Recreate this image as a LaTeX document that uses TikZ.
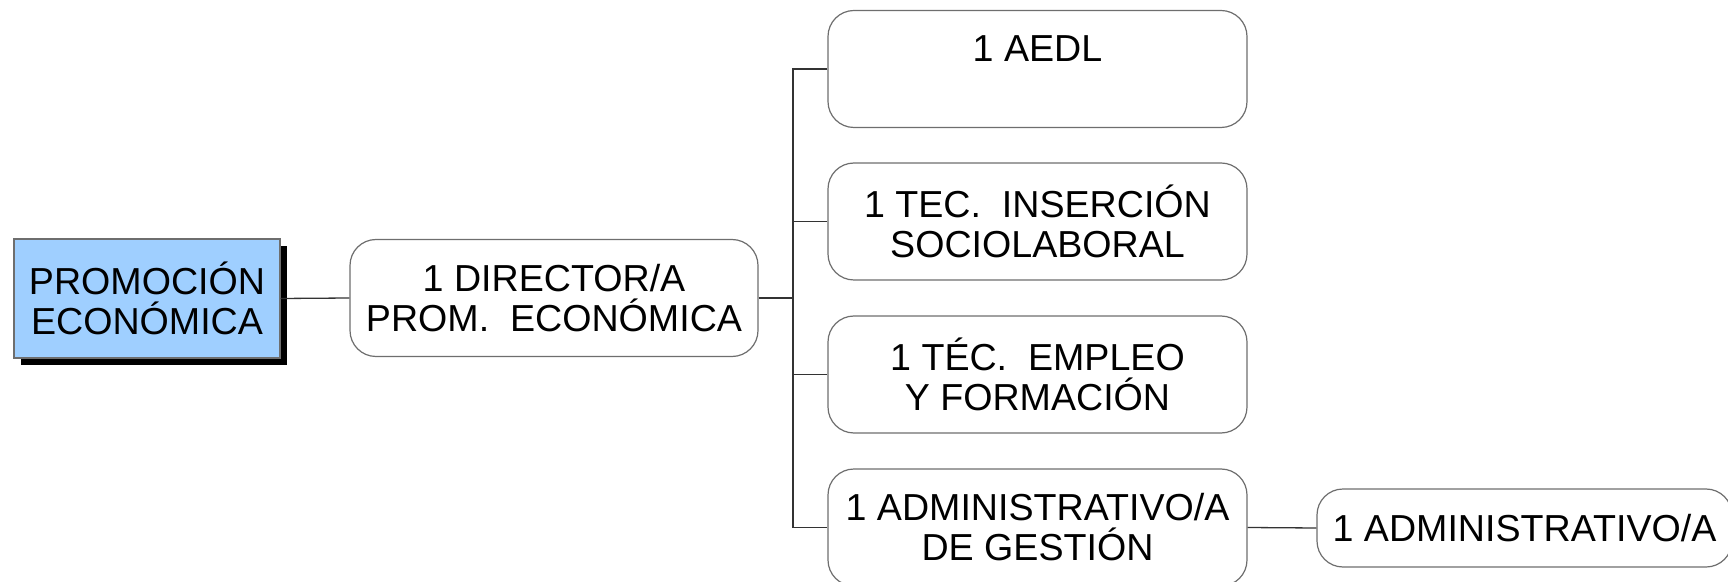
\documentclass[tikz,border=0pt]{standalone}
\usepackage{fontspec}
\setmainfont{Liberation Sans}
\usetikzlibrary{shadows}
\definecolor{boxblue}{RGB}{159,207,255}
\definecolor{bordergray}{RGB}{110,110,110}
\definecolor{linegray}{RGB}{51,51,51}
\begin{document}
\begin{tikzpicture}[x=0.5pt,y=-0.5pt,
  every node/.style={font=\fontsize{18.8}{20}\selectfont, align=center, inner sep=0pt},
  rootbox/.style={draw=bordergray, fill=boxblue, line width=0.6pt,
    minimum width=133pt, minimum height=59.5pt,
    drop shadow={shadow xshift=3.5pt, shadow yshift=-3.5pt, fill=black, opacity=1}},
  rbox/.style={draw=bordergray, fill=white, line width=0.6pt, rounded corners=13pt,
    minimum height=58.5pt},
  childbox/.style={rbox, minimum width=209.5pt},
  conn/.style={draw=linegray, line width=0.65pt}]
\clip (0,0) rectangle (1728,582);
\node[rootbox] (root) at (147,298.5) {PROMOCIÓN\\ECONÓMICA};
\node[rbox, minimum width=204pt] (dir) at (554,298) {1 DIRECTOR/A\\PROM.\ \ ECONÓMICA};
\node[childbox] (c1) at (1037.5,69) {1 AEDL\\\mbox{}};
\node[childbox] (c2) at (1037.5,221.5) {1 TEC.\ \ INSERCIÓN\\SOCIOLABORAL};
\node[childbox] (c3) at (1037.5,374.5) {1 TÉC.\ \ EMPLEO\\Y FORMACIÓN};
\node[childbox] (c4) at (1037.5,527.5) {1 ADMINISTRATIVO/A\\DE GESTIÓN};
\node[rbox, minimum width=207.5pt, minimum height=39pt] (c5) at (1524.5,528) {1 ADMINISTRATIVO/A};
\coordinate (bus) at (793,298);
\draw[conn] (root.east) -- (dir.west);
\draw[conn] (dir.east) -- (dir.east -| bus);
\draw[conn] (c1.west) -- (c1.west -| bus) -- (c4.west -| bus) -- (c4.west);
\draw[conn] (c2.west) -- (c2.west -| bus);
\draw[conn] (c3.west) -- (c3.west -| bus);
\draw[conn] (c4.east) -- (c5.west);
\end{tikzpicture}
\end{document}
